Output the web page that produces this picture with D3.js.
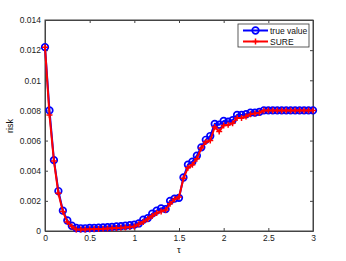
<!DOCTYPE html>
<html><head><meta charset="utf-8">
<script src="https://cdn.jsdelivr.net/npm/d3@7"></script>
<style>body{margin:0;background:#fff}svg{display:block}text{font-family:"Liberation Sans",Arial,sans-serif}</style>
</head><body>
<script>
const tau = d3.range(61).map(i => +(i*0.05).toFixed(2));
const trueValue = [12.2,8.0,4.7,2.65,1.35,0.7,0.35,0.2,0.18,0.18,0.2,0.2,0.22,0.24,0.25,0.27,0.3,0.32,0.35,0.38,0.42,
  0.5,0.75,0.85,1.15,1.35,1.5,1.45,2.0,2.15,2.2,3.55,4.4,4.6,5.0,5.55,6.05,6.3,7.1,7.05,7.3,7.25,7.35,7.7,7.7,7.75,7.85,7.85,7.9,
  8.0,8.0,8.0,8.0,8.0,8.0,8.0,8.0,8.0,8.0,8.0,8.0].map(v=>v/1000);
const sure = [12.2,7.7,4.65,2.5,1.3,0.6,0.3,0.1,0.1,0.1,0.12,0.13,0.14,0.15,0.17,0.18,0.2,0.22,0.24,0.26,0.3,
  0.45,0.6,0.8,1.0,1.2,1.3,1.4,1.8,2.1,2.25,3.5,4.2,4.4,4.8,5.5,5.9,6.0,6.9,6.6,7.0,7.05,7.15,7.5,7.5,7.6,7.75,7.8,7.85,
  8.0,8.0,8.0,8.0,8.0,8.0,8.0,8.0,8.0,8.0,8.0,8.0].map(v=>v/1000);
const xTicks = [0,0.5,1,1.5,2,2.5,3];
const yTicks = [0,0.002,0.004,0.006,0.008,0.01,0.012,0.014];
const seriesNames = ["true value","SURE"];

const W=346,H=261, L=45,R=313,T=20,B=231;
const svg = d3.select("body").append("svg").attr("width",W).attr("height",H);
const x = d3.scaleLinear().domain([0,3]).range([L,R]);
const y = d3.scaleLinear().domain([0,0.014]).range([B,T]);
const axisColor="#444", fs=8.5;

const gx = svg.append("g").attr("transform",`translate(0,${B})`)
  .call(d3.axisBottom(x).tickValues(xTicks).tickFormat(d=>String(d)).tickSizeInner(-3).tickSizeOuter(0).tickPadding(4));
const gxt = svg.append("g").attr("transform",`translate(0,${T})`)
  .call(d3.axisTop(x).tickValues(xTicks).tickFormat("").tickSizeInner(-3).tickSizeOuter(0));
const gy = svg.append("g").attr("transform",`translate(${L},0)`)
  .call(d3.axisLeft(y).tickValues(yTicks).tickFormat(d=>String(+d.toFixed(3))).tickSizeInner(-3).tickSizeOuter(0).tickPadding(4));
const gyr = svg.append("g").attr("transform",`translate(${R},0)`)
  .call(d3.axisRight(y).tickValues(yTicks).tickFormat("").tickSizeInner(-3).tickSizeOuter(0));
[gx,gxt,gy,gyr].forEach(g=>{
  g.selectAll("path").attr("stroke",axisColor).attr("stroke-width",1);
  g.selectAll("line").attr("stroke",axisColor);
  g.selectAll("text").attr("fill","#222").attr("font-size",fs).attr("font-family","Liberation Sans, Arial, sans-serif");
});
svg.append("rect").attr("x",L).attr("y",T).attr("width",R-L).attr("height",B-T)
  .attr("fill","none").attr("stroke",axisColor).attr("stroke-width",1);

const line = d3.line().x((d,i)=>x(tau[i])).y(d=>y(d));
svg.append("path").datum(trueValue).attr("d",line).attr("fill","none").attr("stroke","#0000ff").attr("stroke-width",2);
svg.append("g").selectAll("circle").data(trueValue).join("circle")
  .attr("cx",(d,i)=>x(tau[i])).attr("cy",d=>y(d)).attr("r",3.3)
  .attr("fill","none").attr("stroke","#0000ff").attr("stroke-width",1.7);
svg.append("path").datum(sure).attr("d",line).attr("fill","none").attr("stroke","#ff0000").attr("stroke-width",2);
svg.append("g").selectAll("path").data(sure).join("path")
  .attr("transform",(d,i)=>`translate(${x(tau[i])},${y(d)})`)
  .attr("d","M-3,0H3M0,-3V3").attr("stroke","#ff0000").attr("stroke-width",1.5).attr("fill","none");

// legend
const lg = svg.append("g");
lg.append("rect").attr("x",238).attr("y",24).attr("width",71).attr("height",23)
  .attr("fill","#fff").attr("stroke","#333").attr("stroke-width",0.8);
const ly=[30.5,41.5];
lg.append("line").attr("x1",243).attr("x2",268).attr("y1",ly[0]).attr("y2",ly[0]).attr("stroke","#0000ff").attr("stroke-width",2);
lg.append("circle").attr("cx",255.5).attr("cy",ly[0]).attr("r",3.3).attr("fill","none").attr("stroke","#0000ff").attr("stroke-width",1.7);
lg.append("line").attr("x1",243).attr("x2",268).attr("y1",ly[1]).attr("y2",ly[1]).attr("stroke","#ff0000").attr("stroke-width",2);
lg.append("path").attr("transform",`translate(255.5,${ly[1]})`).attr("d","M-3,0H3M0,-3V3").attr("stroke","#ff0000").attr("stroke-width",1.5);
seriesNames.forEach((n,i)=>lg.append("text").attr("x",270).attr("y",ly[i]+3).attr("font-size",fs).attr("fill","#111").text(n));

svg.append("text").attr("x",179).attr("y",253).attr("text-anchor","middle").attr("font-size",9.5).attr("fill","#111").text("τ");
svg.append("text").attr("transform","translate(13,126) rotate(-90)").attr("text-anchor","middle").attr("font-size",9).attr("fill","#111").text("risk");
</script>
</body></html>
